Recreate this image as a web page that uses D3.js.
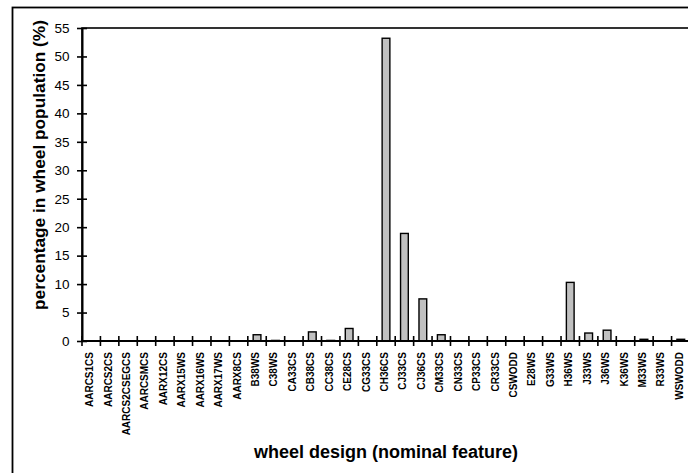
<!DOCTYPE html>
<html><head><meta charset="utf-8">
<script src="https://cdn.jsdelivr.net/npm/d3@7"></script>
<style>body{margin:0;background:#fff}svg{display:block}text{font-family:Arial,"Liberation Sans",sans-serif}</style>
</head><body><svg id="c" width="688" height="473"></svg>
<script>
const categories = ["AARCS1CS","AARCS2CS","AARCS2CSEGCS","AARCSMCS","AARX12CS","AARX15WS","AARX16WS","AARX17WS","AARX8CS","B38WS","C38WS","CA33CS","CB38CS","CC38CS","CE28CS","CG33CS","CH36CS","CJ33CS","CJ36CS","CM33CS","CN33CS","CP33CS","CR33CS","CSWODD","E28WS","G33WS","H36WS","J33WS","J36WS","K36WS","M33WS","R33WS","WSWODD"];
const values = [0,0,0,0,0,0,0,0,0,1.1,0.1,0,1.6,0.1,2.2,0,53.2,18.9,7.4,1.1,0,0,0,0.05,0.05,0,10.3,1.4,1.9,0,0.3,0.05,0.3];
const yTicks = [0,5,10,15,20,25,30,35,40,45,50,55];
const yTitle = "percentage in wheel population (%)";
const xTitle = "wheel design (nominal feature)";

const svg = d3.select("#c");
const L = 82, R = 690, T = 28, B = 341;
// outer frame
svg.append("rect").attr("x",12.5).attr("y",7.5).attr("width",700).attr("height",500)
  .attr("fill","none").attr("stroke","#000").attr("stroke-width",1.8);
// plot frame
svg.append("rect").attr("x",L).attr("y",T).attr("width",R-L).attr("height",B-T)
  .attr("fill","none").attr("stroke","#000").attr("stroke-width",1.6);

const x = d3.scaleBand().domain(categories).range([L,R]).paddingInner(0);
const y = d3.scaleLinear().domain([0,55]).range([B,T]);

// bars
const bw = x.bandwidth()*0.42;
svg.append("g").selectAll("rect").data(categories.map((c,i)=>({c,v:values[i]})).filter(d=>d.v>0))
  .join("rect")
  .attr("x",d=>x(d.c)+x.bandwidth()/2-bw/2)
  .attr("y",d=>y(d.v))
  .attr("width",bw)
  .attr("height",d=>y(0)-y(d.v))
  .attr("fill","#c0c0c0").attr("stroke","#000").attr("stroke-width",1.4);

// y axis
const ya = svg.append("g").attr("transform",`translate(${L},0)`)
  .call(d3.axisLeft(y).tickValues(yTicks).tickSize(0).tickPadding(12.5));
ya.select(".domain").attr("stroke","#000").attr("stroke-width",2);
ya.selectAll(".tick text").attr("font-size",13.5).attr("fill","#000").attr("font-family","Arial, 'Liberation Sans', sans-serif");
ya.selectAll(".tick").append("line").attr("x1",-5).attr("x2",5).attr("stroke","#000").attr("stroke-width",1.6);

// x axis
const xa = svg.append("g").attr("transform",`translate(0,${B})`);
xa.append("line").attr("x1",L).attr("x2",R).attr("stroke","#000").attr("stroke-width",2);
const edges = categories.map(c=>x(c)).concat([R]);
xa.selectAll("line.t").data(edges).join("line").attr("class","t")
  .attr("x1",d=>d).attr("x2",d=>d).attr("y1",-5).attr("y2",5)
  .attr("stroke","#000").attr("stroke-width",1.6);
xa.selectAll("text").data(categories).join("text")
  .attr("transform",d=>`translate(${x(d)+x.bandwidth()/2+2},11) rotate(-90)`)
  .attr("text-anchor","end").attr("font-size",10).attr("font-weight","bold").text(d=>d);

// titles
svg.append("text").attr("transform",`translate(45,165) rotate(-90)`)
  .attr("text-anchor","middle").attr("font-size",17.3).attr("font-weight","bold").text(yTitle);
svg.append("text").attr("x",386).attr("y",458)
  .attr("text-anchor","middle").attr("font-size",18).attr("font-weight","bold").text(xTitle);
</script></body></html>
